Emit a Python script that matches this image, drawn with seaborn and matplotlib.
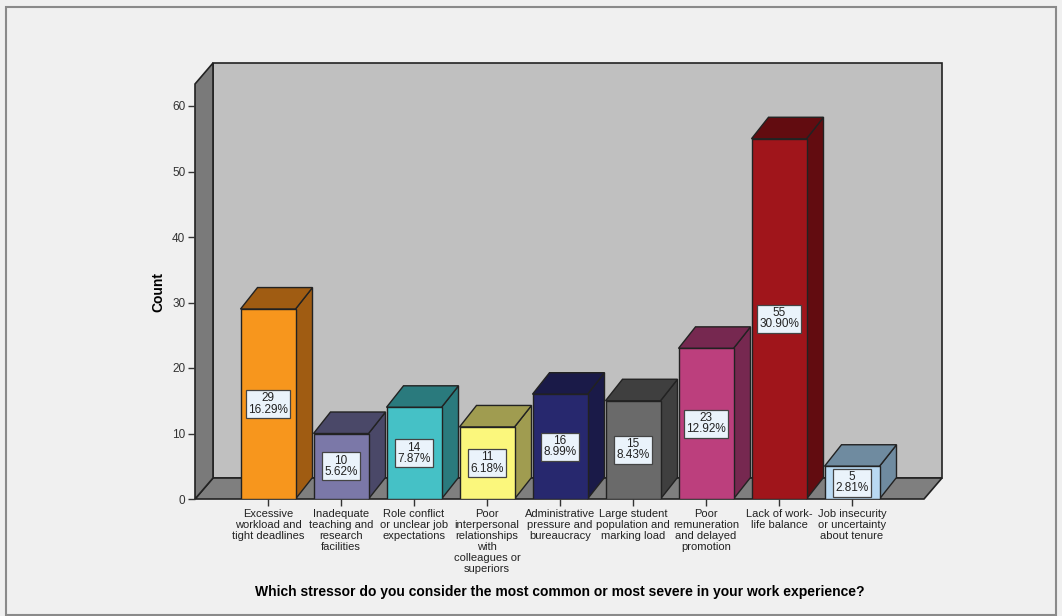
import matplotlib
matplotlib.use("Agg")
import matplotlib.pyplot as plt
from matplotlib.patches import Polygon, Rectangle
import seaborn as sns
import pandas as pd

# data
stressors = [
    "Excessive\nworkload and\ntight deadlines",
    "Inadequate\nteaching and\nresearch\nfacilities",
    "Role conflict\nor unclear job\nexpectations",
    "Poor\ninterpersonal\nrelationships\nwith\ncolleagues or\nsuperiors",
    "Administrative\npressure and\nbureaucracy",
    "Large student\npopulation and\nmarking load",
    "Poor\nremuneration\nand delayed\npromotion",
    "Lack of work-\nlife balance",
    "Job insecurity\nor uncertainty\nabout tenure",
]
counts = [29, 10, 14, 11, 16, 15, 23, 55, 5]
bar_colors = ["#f7961d", "#7b78a8", "#45c1c6", "#fbf77c", "#27286e",
              "#6a6a6a", "#bc3f7d", "#a0151b", "#b9d9f2"]
side_colors = ["#a05c12", "#4a4868", "#2a7a7d", "#a09c50", "#1a1a48",
               "#3f3f3f", "#762850", "#620c10", "#6f8ba0"]

total = sum(counts)
df = pd.DataFrame({"stressor": stressors, "count": counts})

plt.rcParams["font.family"] = ["Liberation Sans", "DejaVu Sans"]

fig = plt.figure(figsize=(10.62, 6.16), dpi=100)
fig.patch.set_facecolor("#f0f0f0")
ax = fig.add_axes([195 / 1062, 1 - 499 / 616, 747 / 1062, 436 / 616])
ax.set_facecolor("none")

bw = 55 / 73
sns.barplot(data=df, x="stressor", y="count", hue="stressor", palette=bar_colors,
            legend=False, width=bw, edgecolor="#222222", linewidth=1.0,
            saturation=1, ax=ax, zorder=3)

# limits set after seaborn so they stick
x0, x1 = -1.0, -1.0 + 747 / 73
ymax = 436 / 6.55
ax.set_xlim(x0, x1)
ax.set_ylim(0, ymax)
dx = 18 / 73
dy = 21 / 6.55
front_top = ymax - dy
front_right = x1 - dx

# back wall, floor, left wall
ax.add_patch(Rectangle((x0 + dx, dy), x1 - x0 - dx, ymax - dy, fc="#c0c0c0",
                       ec="#222222", lw=1.2, zorder=0, clip_on=False))
ax.add_patch(Polygon([(x0, 0), (front_right, 0), (x1, dy), (x0 + dx, dy)],
                     fc="#7f7f7f", ec="#222222", lw=1.2, zorder=0.5, clip_on=False))
ax.add_patch(Polygon([(x0, 0), (x0, front_top), (x0 + dx, ymax), (x0 + dx, dy)],
                     fc="#7a7a7a", ec="#222222", lw=1.2, zorder=0.5, clip_on=False))

bdx = 17 / 73
bdy = 21.5 / 6.55
for i, (v, sc) in enumerate(zip(counts, side_colors)):
    l, r = i - bw / 2, i + bw / 2
    ax.add_patch(Polygon([(r, 0), (r + bdx, bdy), (r + bdx, v + bdy), (r, v)],
                         fc=sc, ec="#222222", lw=1.0, zorder=2.5, clip_on=False))
    ax.add_patch(Polygon([(l, v), (l + bdx, v + bdy), (r + bdx, v + bdy), (r, v)],
                         fc=sc, ec="#222222", lw=1.0, zorder=2.5, clip_on=False))
    ax.text(i, v / 2, f"{v}\n{v / total * 100:.2f}%", ha="center", va="center",
            fontsize=8.5, linespacing=0.9, color="#222222", zorder=5,
            bbox=dict(boxstyle="square,pad=0.2", fc="#eaf3fb", ec="#444444", lw=0.9))

for s in ax.spines.values():
    s.set_visible(False)
ax.set_yticks(range(0, 61, 10))
ax.set_xticks(range(len(stressors)))
ax.set_xticklabels(stressors, fontsize=8, linespacing=1.12, color="#222222")
ax.tick_params(axis="y", labelsize=8.5, labelcolor="#333333", length=5, width=1,
               color="#333333", pad=2)
ax.tick_params(axis="x", length=5, width=1, color="#333333", pad=2)
ax.set_xlabel("")
ax.set_ylabel("")

fig.text(158 / 1062, 1 - 292 / 616, "Count", rotation=90, ha="center", va="center",
         fontsize=10, fontweight="bold")
fig.text(560 / 1062, 1 - 592 / 616,
         "Which stressor do you consider the most common or most severe in your work experience?",
         ha="center", va="center", fontsize=10, fontweight="bold")

# outer frame
fig.add_artist(Rectangle((6 / 1062, 1 / 616), 1050 / 1062, 608 / 616, fill=False,
                         ec="#8a8a8a", lw=1.5, transform=fig.transFigure))

fig.savefig("out.png", dpi=100, facecolor=fig.get_facecolor())
